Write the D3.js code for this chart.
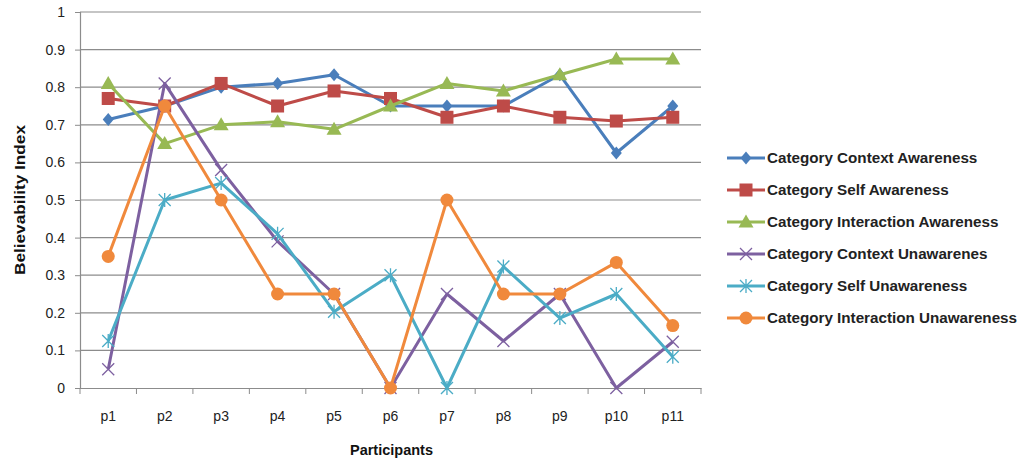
<!DOCTYPE html>
<html><head><meta charset="utf-8">
<script src="https://cdn.jsdelivr.net/npm/d3@7"></script>
<style>body{margin:0;background:#fff;} svg{display:block;}</style>
</head><body>
<svg id="c" width="1019" height="461"></svg>
<script>
const categories = ["p1","p2","p3","p4","p5","p6","p7","p8","p9","p10","p11"];
const seriesNames = ["Category Context Awareness","Category Self Awareness","Category Interaction Awareness","Category Context Unawarenes","Category Self Unawareness","Category Interaction Unawareness"];
const contextAwareness = [0.714,0.75,0.80,0.81,0.833,0.75,0.75,0.75,0.833,0.625,0.75];
const selfAwareness = [0.77,0.75,0.81,0.75,0.79,0.77,0.72,0.75,0.72,0.71,0.72];
const interactionAwareness = [0.81,0.65,0.70,0.708,0.688,0.75,0.81,0.79,0.833,0.875,0.875];
const contextUnawareness = [0.05,0.81,0.58,0.39,0.25,0,0.25,0.125,0.25,0,0.123];
const selfUnawareness = [0.125,0.50,0.545,0.41,0.203,0.30,0,0.323,0.186,0.25,0.083];
const interactionUnawareness = [0.35,0.75,0.50,0.25,0.25,0,0.50,0.25,0.25,0.334,0.166];
const yTicks = [0,0.1,0.2,0.3,0.4,0.5,0.6,0.7,0.8,0.9,1];
const colors = ["#4A7EBB","#BE4B48","#98B954","#7D60A0","#4BACC6","#F0893C"];
const symbols = ["diamond","square","triangle","x","star","circle"];
const allValues = [contextAwareness,selfAwareness,interactionAwareness,contextUnawareness,selfUnawareness,interactionUnawareness];

const svg = d3.select("#c");
const font = "'Liberation Sans', Arial, sans-serif";
const L = 80, R = 701, T = 12, B = 388;
const x = d3.scaleBand().domain(categories).range([L,R]).paddingInner(0).paddingOuter(0);
const y = d3.scaleLinear().domain([0,1]).range([B,T]);

// gridlines
svg.append("g").selectAll("line").data(yTicks.filter(d=>d>0)).join("line")
  .attr("x1",L).attr("x2",R).attr("y1",d=>y(d)).attr("y2",d=>y(d))
  .attr("stroke","#8c8c8c").attr("stroke-width",1.2);

// y axis
const ya = svg.append("g").attr("transform",`translate(${L},0)`)
  .call(d3.axisLeft(y).tickValues(yTicks).tickSize(5).tickPadding(10).tickFormat(d=>d3.format("")(+d.toFixed(1))));
ya.select(".domain").attr("stroke","#8c8c8c").attr("stroke-width",1.2);
ya.selectAll(".tick line").attr("stroke","#8c8c8c");
ya.selectAll("text").attr("font-family",font).attr("font-size",14).attr("fill","#222");

// x axis
const xa = svg.append("g").attr("transform",`translate(0,${B})`)
  .call(d3.axisBottom(x).tickSize(0).tickPadding(23));
xa.select(".domain").attr("stroke","#8c8c8c").attr("stroke-width",1.2);
xa.selectAll("text").attr("font-family",font).attr("font-size",14).attr("fill","#222");
const bounds = categories.map(c=>x(c)).concat([R]);
xa.selectAll(".btick").data(bounds).join("line").attr("class","btick")
  .attr("x1",d=>d).attr("x2",d=>d).attr("y1",0).attr("y2",6).attr("stroke","#8c8c8c");

// axis titles
svg.append("text").attr("transform","translate(25,200) rotate(-90)").attr("text-anchor","middle")
  .attr("font-family",font).attr("font-weight","bold").attr("font-size",15).attr("fill","#111")
  .attr("textLength",150).attr("lengthAdjust","spacingAndGlyphs").text("Believability Index");
svg.append("text").attr("x",391.5).attr("y",455).attr("text-anchor","middle")
  .attr("font-family",font).attr("font-weight","bold").attr("font-size",15).attr("fill","#111")
  .attr("textLength",83).attr("lengthAdjust","spacingAndGlyphs").text("Participants");

function drawMarker(g, type, color, cx, cy){
  const s = 5.5;
  if(type==="diamond"){
    g.append("path").attr("d",`M${cx},${cy-s-1}L${cx+s},${cy}L${cx},${cy+s+1}L${cx-s},${cy}Z`).attr("fill",color);
  } else if(type==="square"){
    g.append("rect").attr("x",cx-6.5).attr("y",cy-6.5).attr("width",13).attr("height",13).attr("fill",color);
  } else if(type==="triangle"){
    g.append("path").attr("d",`M${cx},${cy-7.5}L${cx+7.5},${cy+5.5}L${cx-7.5},${cy+5.5}Z`).attr("fill",color);
  } else if(type==="circle"){
    g.append("circle").attr("cx",cx).attr("cy",cy).attr("r",6.5).attr("fill",color);
  } else if(type==="x"){
    g.append("path").attr("d",`M${cx-6},${cy-6}L${cx+6},${cy+6}M${cx-6},${cy+6}L${cx+6},${cy-6}`).attr("stroke",color).attr("stroke-width",1.3).attr("fill","none");
  } else if(type==="star"){
    g.append("path").attr("d",`M${cx-6},${cy-6}L${cx+6},${cy+6}M${cx-6},${cy+6}L${cx+6},${cy-6}M${cx},${cy-7}L${cx},${cy+7}`).attr("stroke",color).attr("stroke-width",1.3).attr("fill","none");
  }
}

const line = d3.line().x((d,i)=>x(categories[i])+x.bandwidth()/2).y(d=>y(d));
allValues.forEach((vals,si)=>{
  const g = svg.append("g");
  g.append("path").datum(vals).attr("d",line).attr("fill","none").attr("stroke",colors[si]).attr("stroke-width",3).attr("stroke-linejoin","round");
  vals.forEach((v,i)=>drawMarker(g,symbols[si],colors[si],x(categories[i])+x.bandwidth()/2,y(v)));
});

// legend
const legY = d3.scalePoint().domain(seriesNames).range([158,318]);
const texts = [];
seriesNames.forEach((n,si)=>{
  const g = svg.append("g");
  const cy = legY(n);
  g.append("line").attr("x1",727).attr("x2",765).attr("y1",cy).attr("y2",cy).attr("stroke",colors[si]).attr("stroke-width",3);
  drawMarker(g,symbols[si],colors[si],746,cy);
  texts.push(g.append("text").attr("x",767).attr("y",cy+5).attr("font-family",font).attr("font-size",14).attr("font-weight","bold").attr("fill","#222").text(n));
});
const maxW = d3.max(texts, t=>t.node().getComputedTextLength());
const k = 250 / maxW;
texts.forEach(t=>t.attr("textLength", t.node().getComputedTextLength()*k).attr("lengthAdjust","spacingAndGlyphs"));
</script>
</body></html>
